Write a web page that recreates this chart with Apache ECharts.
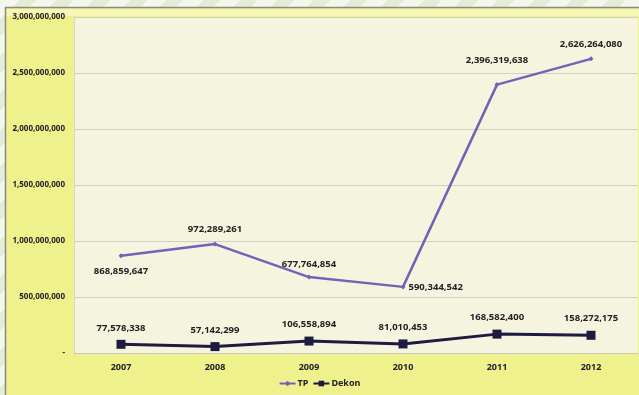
<!DOCTYPE html>
<html>
<head>
<meta charset="utf-8">
<script src="https://cdn.jsdelivr.net/npm/echarts@6/dist/echarts.min.js"></script>
<style>
  html, body { margin: 0; padding: 0; }
  body {
    width: 639px; height: 395px; overflow: hidden;
    background: repeating-linear-gradient(135deg, #f4f7ee 0px, #f4f7ee 14px, #e3ecd6 14px, #e3ecd6 26px);
  }
  #chart { width: 639px; height: 395px; }
</style>
</head>
<body>
<div id="chart"></div>
<script>
// Budget per year, two funding channels
const years = ['2007', '2008', '2009', '2010', '2011', '2012'];
const tpValues = [868859647, 972289261, 677764854, 590344542, 2396319638, 2626264080];
const dekonValues = [77578338, 57142299, 106558894, 81010453, 168582400, 158272175];
const tpLabelPlacement = ['bottom', 'top', 'top', 'right', 'top', 'top'];
const tpLabelGap = [8, 7, 5, 3, 17, 7];

const fmt = v => v.toLocaleString('en-US');
const labelFont = { fontFamily: 'Noto Sans', fontWeight: 'bold', fontSize: 9.5, color: '#222222' };

const chart = echarts.init(document.getElementById('chart'), null, { renderer: 'canvas' });

chart.setOption({
  backgroundColor: 'transparent',
  animation: false,
  graphic: [
    { type: 'rect', z: -10, shape: { x: 5.5, y: 7.5, width: 640, height: 400 },
      style: { fill: '#eff18d', stroke: '#8a8a80', lineWidth: 1.5 } },
    { type: 'rect', z: -9, shape: { x: 7, y: 9, width: 640, height: 7 },
      style: { fill: '#f6f7b4' } }
  ],
  grid: {
    left: 74, right: 1, top: 17, bottom: 42,
    show: true, backgroundColor: '#f5f4df', borderWidth: 0
  },
  legend: {
    bottom: 2, left: 'center',
    itemWidth: 16, itemHeight: 7, itemGap: 4,
    textStyle: { fontFamily: 'Noto Sans', fontWeight: 'bold', fontSize: 9, color: '#222222', padding: [0, 0, 0, -3] },
    data: ['TP', 'Dekon']
  },
  xAxis: {
    type: 'category',
    data: years,
    boundaryGap: true,
    axisLine: { show: true, lineStyle: { color: '#c8c8b8', width: 1 } },
    axisTick: { show: false },
    axisLabel: { fontFamily: 'Noto Sans', fontWeight: 'bold', fontSize: 9, color: '#222222', margin: 10 }
  },
  yAxis: {
    type: 'value',
    min: 0, max: 3000000000, interval: 500000000,
    axisLine: { show: true, lineStyle: { color: '#d8d8c8' } },
    axisTick: { show: false },
    splitLine: { lineStyle: { color: '#d0d0c2', width: 1 } },
    axisLabel: {
      fontFamily: 'Noto Sans', fontWeight: 'bold', fontSize: 8, color: '#222222', margin: 9,
      formatter: v => (v === 0 ? '-' : fmt(v))
    }
  },
  series: [
    {
      name: 'TP',
      type: 'line',
      data: tpValues.map((v, i) => ({
        value: v,
        label: { position: tpLabelPlacement[i], distance: tpLabelGap[i] }
      })),
      symbol: 'diamond', symbolSize: 5,
      lineStyle: { color: '#7262b8', width: 2.5 },
      itemStyle: { color: '#7262b8' },
      label: { show: true, formatter: p => fmt(p.value), ...labelFont }
    },
    {
      name: 'Dekon',
      type: 'line',
      data: dekonValues,
      symbol: 'rect', symbolSize: 9,
      lineStyle: { color: '#1d1b3f', width: 3 },
      itemStyle: { color: '#1d1b3f' },
      label: { show: true, position: 'top', distance: 7, formatter: p => fmt(p.value), ...labelFont }
    }
  ]
});
</script>
</body>
</html>
